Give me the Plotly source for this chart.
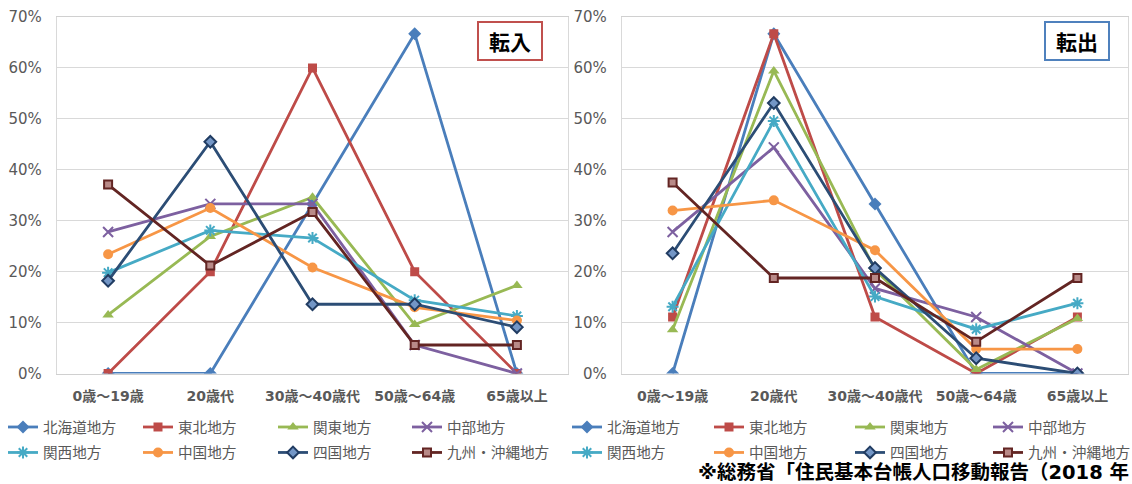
import plotly.graph_objects as go

# Age groups (x categories) and regions
ages = ["0歳～19歳", "20歳代", "30歳～40歳代", "50歳～64歳", "65歳以上"]
regions = ["北海道地方", "東北地方", "関東地方", "中部地方",
           "関西地方", "中国地方", "四国地方", "九州・沖縄地方"]

# 転入 (moving in), share by age group [%]
in_hokkaido = [0.0, 0.0, 33.3, 66.7, 0.0]
in_tohoku = [0.0, 20.0, 60.0, 20.0, 0.0]
in_kanto = [11.5, 26.9, 34.6, 9.6, 17.3]
in_chubu = [27.8, 33.3, 33.3, 5.6, 0.0]
in_kansai = [19.8, 28.1, 26.6, 14.4, 11.3]
in_chugoku = [23.4, 32.5, 20.8, 13.0, 10.4]
in_shikoku = [18.2, 45.5, 13.6, 13.6, 9.1]
in_kyushu = [37.1, 21.2, 31.7, 5.6, 5.6]

# 転出 (moving out), share by age group [%]
out_hokkaido = [0.0, 66.7, 33.3, 0.0, 0.0]
out_tohoku = [11.1, 66.7, 11.1, 0.0, 11.1]
out_kanto = [8.6, 59.4, 20.4, 0.8, 10.8]
out_chubu = [27.8, 44.4, 16.7, 11.1, 0.0]
out_kansai = [13.1, 49.6, 15.1, 8.7, 13.8]
out_chugoku = [32.0, 34.0, 24.2, 4.8, 4.8]
out_shikoku = [23.6, 53.1, 20.7, 3.0, 0.0]
out_kyushu = [37.5, 18.75, 18.75, 6.25, 18.75]

y_ticks = [0, 10, 20, 30, 40, 50, 60, 70]
y_tick_labels = [f"{v}%" for v in y_ticks]

in_series = [in_hokkaido, in_tohoku, in_kanto, in_chubu,
             in_kansai, in_chugoku, in_shikoku, in_kyushu]
out_series = [out_hokkaido, out_tohoku, out_kanto, out_chubu,
              out_kansai, out_chugoku, out_shikoku, out_kyushu]

W, H = 1132, 484

# line colour, marker symbol, marker fill, marker outline colour, outline width, size
styles = [
    ("#4A7EBB", "diamond", "#4A7EBB", "#4A7EBB", 0, 10),
    ("#BE4B48", "square", "#BE4B48", "#BE4B48", 0, 9),
    ("#98B954", "triangle-up", "#98B954", "#98B954", 0, 10),
    ("#7D60A0", "x-thin", "#7D60A0", "#7D60A0", 2, 10),
    ("#46AAC5", "asterisk", "#46AAC5", "#46AAC5", 2, 10),
    ("#F79646", "circle", "#F79646", "#F79646", 0, 10),
    ("#2C4D75", "diamond", "#7396C6", "#213C62", 2, 9),
    ("#632523", "square", "#B98A88", "#632523", 2, 8),
]

fig = go.Figure()


def px_x(p):
    return p / W


def px_y(p):
    return 1 - p / H


# legend columns: text start x positions (pixels) for each panel
legend_text_x = {
    "in": [43, 178, 313, 447],
    "out": [607, 749, 890, 1028],
}

legend_names = {}
for panel_i, (panel, series, xa, ya) in enumerate(
        [("in", in_series, "x", "y"), ("out", out_series, "x2", "y2")]):
    for i, (name, vals) in enumerate(zip(regions, series)):
        lc, sym, fc, olc, olw, sz = styles[i]
        col = i % 4
        lg_id = "legend" if (panel_i == 0 and col == 0) else f"legend{panel_i * 4 + col + 1}"
        legend_names[lg_id] = (panel, col)
        fig.add_trace(go.Scatter(
            x=ages, y=vals, name=name, mode="lines+markers",
            xaxis=xa, yaxis=ya,
            line=dict(color=lc, width=2.8),
            marker=dict(symbol=sym, color=fc, size=sz,
                        line=dict(color=olc, width=olw)),
            legend=lg_id, legendgroup=f"{panel}-{i}",
        ))

axis_font = dict(family="DejaVu Sans, Noto Sans CJK JP", size=15, color="#595959")
xlab_font = dict(family="DejaVu Sans, Noto Sans CJK JP", size=14, color="#595959",
                 weight="bold")

common_x = dict(type="category", range=[-0.5, 4.5], showgrid=False,
                showline=True, linecolor="#D0D0D0", linewidth=1.3, mirror=True,
                ticks="", tickfont=xlab_font, ticklabelstandoff=10,
                zeroline=False, fixedrange=True, automargin=False)
common_y = dict(range=[0, 70], tickmode="array", tickvals=y_ticks,
                ticktext=y_tick_labels,
                showgrid=True, gridcolor="#D9D9D9", gridwidth=1.3,
                showline=True, linecolor="#D9D9D9", linewidth=1.3, mirror=True,
                ticks="", tickfont=axis_font, ticklabelstandoff=11,
                zeroline=False, fixedrange=True, automargin=False)

y_dom = [px_y(373.5), px_y(17)]

layout = dict(
    width=W, height=H,
    margin=dict(l=0, r=0, t=0, b=0, autoexpand=False),
    paper_bgcolor="white", plot_bgcolor="white",
    xaxis=dict(common_x, domain=[px_x(57), px_x(568)], anchor="y"),
    yaxis=dict(common_y, domain=y_dom, anchor="x"),
    xaxis2=dict(common_x, domain=[px_x(622), px_x(1128)], anchor="y2"),
    yaxis2=dict(common_y, domain=y_dom, anchor="x2"),
    font=dict(family="Noto Sans CJK JP, DejaVu Sans"),
)

legend_font = dict(family="Noto Sans CJK JP, DejaVu Sans", size=14.6, color="#595959")
for lg_id, (panel, col) in legend_names.items():
    layout[lg_id] = dict(
        x=px_x(legend_text_x[panel][col] - 40), xanchor="left",
        y=px_y(411), yanchor="top",
        orientation="v", bgcolor="rgba(0,0,0,0)", borderwidth=0,
        font=legend_font, itemwidth=30, tracegroupgap=3.5,
    )

fig.update_layout(**layout)

# Panel titles in bordered boxes
for text, cx, border in [("転入", 510, "#C0504D"), ("転出", 1076.5, "#4F81BD")]:
    fig.add_annotation(
        text=f"<b>{text}</b>", x=px_x(cx), y=px_y(41), xref="paper", yref="paper",
        xanchor="center", yanchor="middle", showarrow=False,
        font=dict(family="Noto Sans CJK JP", size=21, color="black"),
        bordercolor=border, borderwidth=2, borderpad=0, bgcolor="white",
        width=62, height=36,
    )

# Source note
fig.add_annotation(
    text="<b>※総務省「住民基本台帳人口移動報告（2018 年</b>",
    x=px_x(696), y=px_y(472), xref="paper", yref="paper",
    xanchor="left", yanchor="middle", showarrow=False,
    font=dict(family="DejaVu Sans, Noto Sans CJK JP", size=19.5, color="black"),
)

fig.write_html("out.html")
